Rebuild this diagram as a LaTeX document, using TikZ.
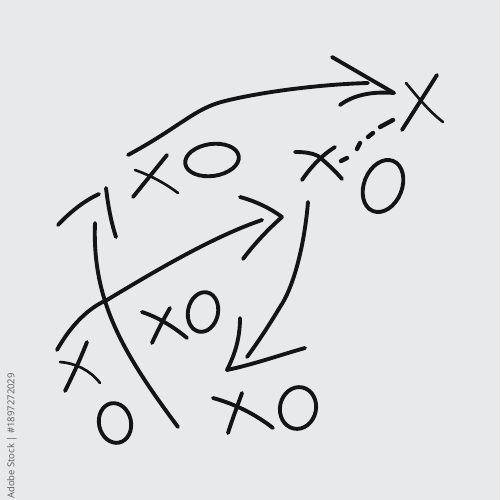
\documentclass[tikz,border=0pt]{standalone}
\usepackage{fontspec}
\newfontfamily\idfont{Open Sans}
\usepackage{tikz}
\definecolor{board}{HTML}{E8E9EB}
\definecolor{ink}{HTML}{141414}
\definecolor{idgray}{HTML}{5A5A5A}
\tikzstyle{pen}=[draw=ink, line width=2.2pt, line cap=round, line join=round]
\tikzstyle{fine pen}=[pen, line width=1.5pt]
\tikzstyle{dash pen}=[pen, line width=2.5pt]
\newcommand{\pen}{\draw[pen]}

\begin{document}
\begin{tikzpicture}[x=0.02cm, y=-0.02cm]
	%% the board
	\fill[board] (0,0) rectangle (500,500);
	\useasboundingbox (0,0) rectangle (500,500);
	%% the route ends
	\coordinate (long start) at (128,155);
	\coordinate (long end) at (368,83);
	\coordinate (long tip) at (394,93);
	\coordinate (up start) at (178,427);
	\coordinate (up end) at (95,223);
	\coordinate (cross start) at (57,350);
	\coordinate (cross end) at (262,220);
	\coordinate (cross tip) at (282,217);
	\coordinate (down start) at (308,202);
	\coordinate (down end) at (247,357);
	\coordinate (down tip) at (227,370);
	%% the routes
	\pen (long start) .. controls (180,127) and (195,108) .. (225,101)
		.. controls (270,90) and (330,84) .. (long end);
	\pen (332,57) -- (long tip);
	\pen (340,105) .. controls (352,96) and (370,91) .. (long tip);
	\pen (up start) .. controls (122,352) and (92,300) .. (up end);
	\pen (58,225) .. controls (72,210) and (86,200) .. (99,194);
	\pen (106,188) .. controls (108,205) and (111,222) .. (116,237);
	\pen (cross start) .. controls (75,318) and (95,305) .. (107,300)
		.. controls (160,268) and (215,236) .. (cross end);
	\pen (240,197) .. controls (255,201) and (270,208) .. (cross tip);
	\pen (cross tip) .. controls (265,232) and (252,247) .. (243,259);
	\pen (down start) .. controls (304,250) and (292,290) .. (280,307)
		.. controls (268,327) and (258,342) .. (down end);
	\pen (240,318) .. controls (240,340) and (234,356) .. (down tip);
	\pen (down tip) .. controls (255,364) and (280,355) .. (305,348);
	%% the pass
	\draw[dash pen] (341,161) -- (347,158);
	\draw[dash pen] (357,149) -- (360,143);
	\draw[dash pen] (368,137) -- (373,133);
	\draw[dash pen] (380,127) -- (393,120);
	%% the x marks
	\pen (437,75) -- (402,130);
	\pen[fine pen] (406,83) .. controls (420,100) and (430,112) .. (443,122);
	\pen (295,152) .. controls (305,152) and (312,153) .. (318,156) .. controls (328,164) and (336,172) .. (342,179);
	\pen (335,147) .. controls (322,155) and (310,168) .. (302,180);
	\pen (167,155) -- (133,197);
	\pen[fine pen] (135,170) .. controls (152,176) and (166,184) .. (178,193);
	\pen (142,312) .. controls (160,318) and (175,328) .. (187,338);
	\pen (170,308) .. controls (163,320) and (157,332) .. (152,343);
	\pen (87,342) .. controls (80,360) and (72,377) .. (65,391);
	\pen[fine pen] (60,362) .. controls (75,363) and (90,370) .. (100,383);
	\pen (213,398) .. controls (235,404) and (255,414) .. (273,428);
	\pen (242,393) .. controls (237,407) and (232,420) .. (228,433);
	%% the o marks
	\pen[rotate around={-22:(383,186)}] (383,186) ellipse [x radius=19, y radius=27];
	\pen[rotate around={8:(212,160)}] (212,160) ellipse [x radius=27, y radius=16];
	\pen[rotate around={-12:(203,312)}] (203,312) ellipse [x radius=15, y radius=20];
	\pen[rotate around={12:(115,423)}] (115,423) ellipse [x radius=16, y radius=20];
	\pen[rotate around={-12:(298,408)}] (298,408) ellipse [x radius=18, y radius=21];
	%% the stock number
	\node[rotate=90, text=idgray, font=\idfont\fontsize{5.4}{6}\selectfont, inner sep=0pt] (stock id) at (12,436) {Adobe Stock | \#1897272029};
\end{tikzpicture}
\end{document}
